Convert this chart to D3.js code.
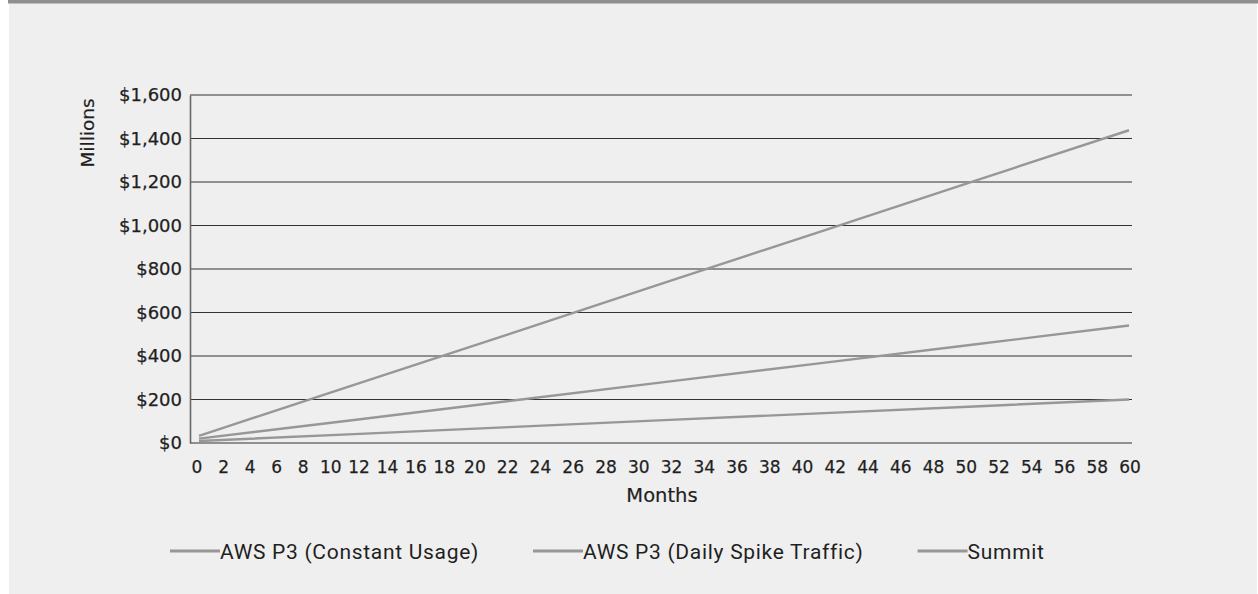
<!DOCTYPE html>
<html>
<head>
<meta charset="utf-8">
<script src="https://cdn.jsdelivr.net/npm/d3@7"></script>
<style>
  html, body { margin: 0; padding: 0; background: #ffffff; }
  svg { display: block; }
</style>
</head>
<body>
<script>
// ---- data ----
const months = [0, 10, 20, 30, 40, 50, 60];
const constantUsage = [33, 267, 501, 736, 970, 1204, 1438];
const dailySpike = [20, 106, 193, 280, 366, 453, 540];
const summit = [9, 41, 73, 105, 136, 168, 200];
const seriesNames = ["AWS P3 (Constant Usage)", "AWS P3 (Daily Spike Traffic)", "Summit"];
const yTicks = [0, 200, 400, 600, 800, 1000, 1200, 1400, 1600];
const xTickLabels = [0, 2, 4, 6, 8, 10, 12, 14, 16, 18, 20, 22, 24, 26, 28, 30,
                     32, 34, 36, 38, 40, 42, 44, 46, 48, 50, 52, 54, 56, 58, 60];
const yTitle = "Millions";
const xTitle = "Months";

// ---- layout ----
const W = 1258, H = 594;
const plotLeft = 190, plotRight = 1132;
const tickFont = "'DejaVu Sans', sans-serif";
const legendFont = "Roboto, 'Liberation Sans', sans-serif";
const lineColor = "#979797";
const textColor = "#1f1f1f";

const svg = d3.select("body").append("svg").attr("width", W).attr("height", H);

svg.append("rect").attr("x", 9).attr("y", 0).attr("width", W - 10).attr("height", H).attr("fill", "#efefef");
svg.append("rect").attr("x", 8).attr("y", 0).attr("width", W - 8).attr("height", 3.5).attr("fill", "#8f8f8f");

const x = d3.scaleLinear().domain([0, 60]).range([199, 1129]);
const y = d3.scaleLinear().domain([0, 1600]).range([443, 95]);

// gridlines
svg.append("g").selectAll("line").data(yTicks).join("line")
  .attr("x1", plotLeft).attr("x2", plotRight)
  .attr("y1", d => y(d)).attr("y2", d => y(d))
  .attr("stroke", "#333").attr("stroke-width", 1.2);

// y axis
const yAxis = svg.append("g").attr("transform", `translate(${plotLeft},0)`)
  .call(d3.axisLeft(y).tickValues(yTicks).tickSize(0).tickPadding(8)
    .tickFormat(d => "$" + d3.format(",")(d)));
yAxis.select(".domain").attr("stroke", "#666").attr("stroke-width", 1.6);
yAxis.selectAll("text").attr("font-family", tickFont).attr("font-size", 18)
  .attr("fill", textColor).attr("stroke", textColor).attr("stroke-width", 0.25);

// x tick labels laid out as a text run with proportional digits (a narrow "1"), as in the reference
const xg = svg.append("g");
const xt = xg.selectAll("text").data(xTickLabels).join("text")
  .attr("font-family", tickFont).attr("font-size", 17)
  .attr("fill", textColor).attr("stroke", textColor).attr("stroke-width", 0.25)
  .attr("text-anchor", "middle").attr("y", 473)
  .text(d => d);
const units = xTickLabels.map(d => String(d).split("").reduce((s, ch) => s + (ch === "1" ? 0.3 : 1), 0));
const unitPx = 6.2;
let sumW = 0;
for (let i = 1; i < units.length; i++) sumW += unitPx * (units[i - 1] + units[i]) / 2;
const startC = x(0) - 2, endC = x(60) + 1;
const gap = (endC - startC - sumW) / (units.length - 1);
const centers = [startC];
for (let i = 1; i < units.length; i++) centers.push(centers[i - 1] + gap + unitPx * (units[i - 1] + units[i]) / 2);
xt.attr("x", (d, i) => centers[i]);

// axis titles
svg.append("text").attr("x", (plotLeft + plotRight) / 2 + 1).attr("y", 502)
  .attr("text-anchor", "middle").attr("font-family", tickFont).attr("font-size", 19.5)
  .attr("fill", textColor).attr("stroke", textColor).attr("stroke-width", 0.2).text(xTitle);
svg.append("text").attr("transform", "translate(94,133) rotate(-90)")
  .attr("text-anchor", "middle").attr("font-family", tickFont).attr("font-size", 18.5)
  .attr("fill", textColor).attr("stroke", textColor).attr("stroke-width", 0.2).text(yTitle);

// lines
const series = [constantUsage, dailySpike, summit];
const line = d3.line().x((d, i) => x(months[i])).y(d => y(d));
svg.append("g").selectAll("path").data(series).join("path")
  .attr("d", d => line(d)).attr("fill", "none")
  .attr("stroke", lineColor).attr("stroke-width", 2.4);

// legend
const legend = svg.append("g").attr("transform", "translate(170,551)");
let lx = 0;
seriesNames.forEach((name, i) => {
  const it = legend.append("g").attr("transform", `translate(${lx},0)`);
  it.append("line").attr("x1", 0).attr("x2", 50).attr("y1", 0).attr("y2", 0)
    .attr("stroke", lineColor).attr("stroke-width", 2.8);
  const t = it.append("text").attr("x", 50).attr("y", 7.5).attr("font-family", legendFont)
    .attr("font-size", 21).attr("letter-spacing", 0.7).attr("fill", textColor).text(name);
  lx += 50 + t.node().getComputedTextLength() + 54;
});
</script>
</body>
</html>
